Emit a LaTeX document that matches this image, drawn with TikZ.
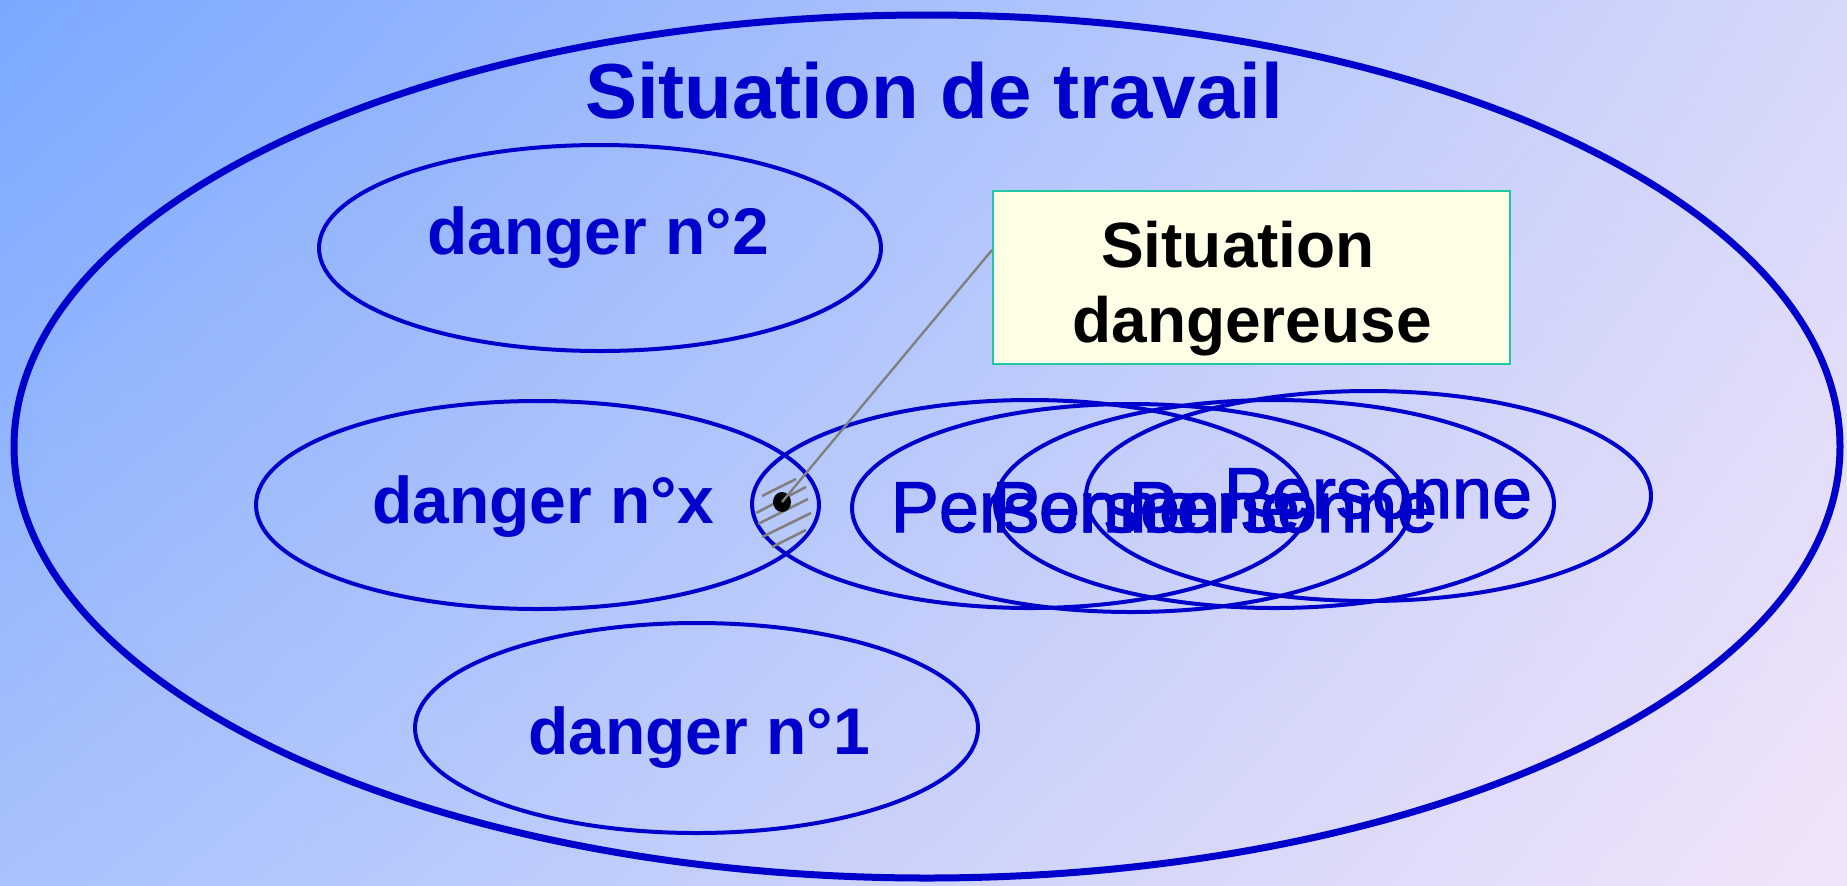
\documentclass[tikz,border=0pt]{standalone}
\usepackage{fontspec}
\setmainfont{Liberation Sans}
\newfontfamily\personnefont[BoldFont={Liberation Sans}, BoldFeatures={FakeBold=1.6}]{Liberation Sans}
\usetikzlibrary{shapes.geometric,shadings}
\definecolor{dblue}{RGB}{0,0,204}
\definecolor{hatchgray}{RGB}{128,128,128}
\definecolor{boxfill}{RGB}{255,255,232}
\definecolor{boxedge}{RGB}{30,200,160}
\definecolor{bgUL}{RGB}{122,168,255}
\definecolor{bgUR}{RGB}{214,216,250}
\definecolor{bgLL}{RGB}{168,194,252}
\definecolor{bgLR}{RGB}{242,228,248}
\begin{document}
\begin{tikzpicture}[x=0.5pt,y=-0.5pt,
  ell/.style={draw=dblue, line width=2pt},
  outerell/.style={draw=dblue, line width=3.5pt},
  titlelabel/.style={anchor=base, text=dblue, inner sep=0, font=\fontsize{39}{47}\selectfont\bfseries},
  dlabel/.style={anchor=base, text=dblue, inner sep=0, font=\fontsize{33}{40}\selectfont\bfseries},
  plabel/.style={anchor=base, text=dblue, inner sep=0, font=\personnefont\bfseries\fontsize{36}{43}\selectfont},
  boxlabel/.style={anchor=base, text=black, inner sep=0, font=\fontsize{32}{38}\selectfont\bfseries},
  hatch/.style={draw=hatchgray, line width=1.3pt},
  leader/.style={draw=hatchgray, line width=1.2pt}]
\useasboundingbox (0,0) rectangle (1847,885);
\shade[upper left=bgUL, upper right=bgUR, lower left=bgLL, lower right=bgLR] (0,0) rectangle (1847,885);
% outer ellipse
\draw[outerell] (927,446.5) ellipse [x radius=913, y radius=431.5];
\node[titlelabel] (title) at (934,118) {Situation de travail};
% danger ellipses
\draw[ell] (600,248) ellipse [x radius=281, y radius=103];
\draw[ell] (537.5,505) ellipse [x radius=281.5, y radius=104];
\draw[ell] (696.5,728) ellipse [x radius=281.5, y radius=105];
\node[dlabel] (d2) at (598,254) {danger n°2};
\node[dlabel] (dx) at (543,523) {danger n°x};
\node[dlabel] (d1) at (699,754) {danger n°1};
% personne ellipses
\draw[ell] (1030,504) ellipse [x radius=278, y radius=104];
\draw[ell] (1131,508) ellipse [x radius=279, y radius=104];
\draw[ell] (1274.5,504) ellipse [x radius=279.5, y radius=104];
\draw[ell] (1368.5,496) ellipse [x radius=282.5, y radius=105];
\node[plabel] (p1) at (1045,532) {Personne};
\node[plabel] (p2) at (1146,532) {Personne};
\node[plabel] (p3) at (1283,532) {Personne};
\node[plabel] (p4) at (1378,518) {Personne};
% hatching in the lens
\draw[hatch] (762,496) -- (796,479);
\draw[hatch] (756,513) -- (806,487);
\draw[hatch] (758,524) -- (808,499);
\draw[hatch] (762,537) -- (811,513);
\draw[hatch] (772,547) -- (806,530);
% dot
\node[ellipse, fill=black, inner sep=0, minimum width=9pt, minimum height=10pt] (dot) at (782,502) {};
% callout box
\node[draw=boxedge, fill=boxfill, line width=1pt, inner sep=0, minimum width=258.5pt, minimum height=86.5pt] (box) at (1251.5,277.5) {};
\node[boxlabel] (s1) at (1238,267) {Situation};
\node[boxlabel] (s2) at (1252,342) {dangereuse};
\coordinate (hit) at (box.west |- 0,250);
\draw[leader] (dot.center) -- (hit);
\end{tikzpicture}
\end{document}
